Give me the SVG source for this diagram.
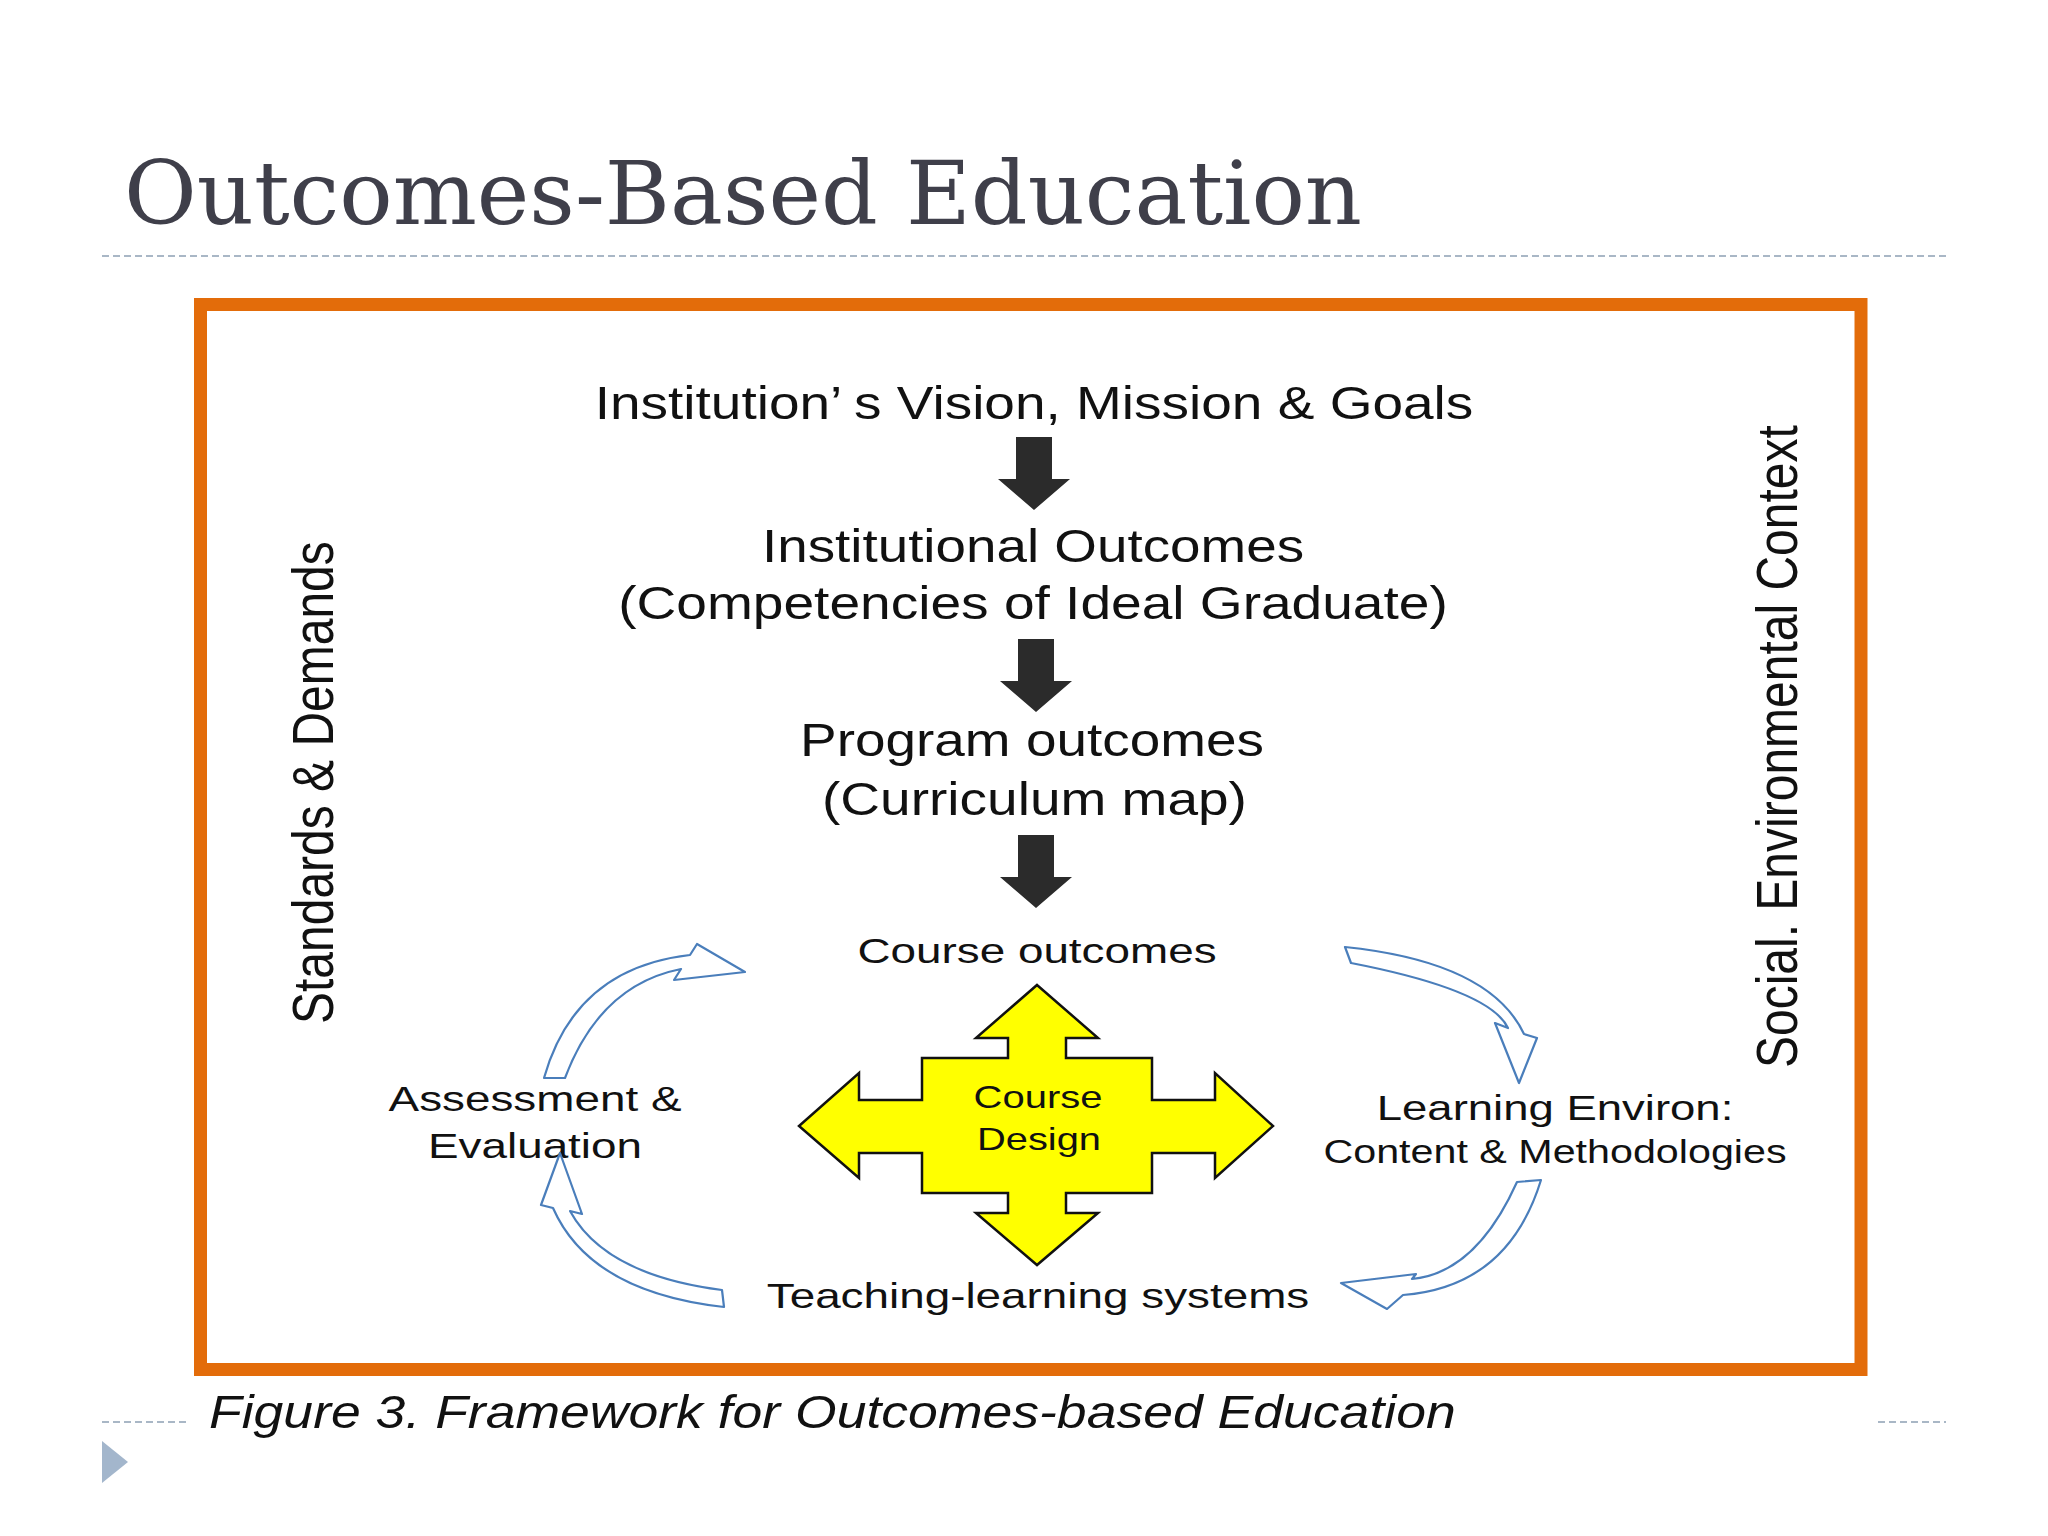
<svg xmlns="http://www.w3.org/2000/svg" width="2048" height="1536" viewBox="0 0 2048 1536">
<defs>
<style>
.title{font-family:"DejaVu Serif","Liberation Serif",serif;font-size:88px;fill:#3f3f4a}
.t{font-family:"Liberation Sans",Arial,sans-serif;fill:#111;text-anchor:middle}
.big{font-size:47px}
.mid{font-size:35px}
.side{font-family:"Liberation Sans",Arial,sans-serif;font-size:48px;fill:#111}
.cap{font-family:"Liberation Sans",Arial,sans-serif;font-size:46px;font-style:italic;fill:#111}
.dash{stroke:#a9b7c6;stroke-width:2;stroke-dasharray:7 4;fill:none}
.blk{fill:#2b2b2b}
.curv{fill:#fff;stroke:#4a7ebb;stroke-width:2.2;stroke-linejoin:round}
</style>
<path id="dn" d="M -18 -73 L 18 -73 L 18 -31 L 36 -31 L 0 0 L -36 -31 L -18 -31 Z"/>
</defs>
<rect width="2048" height="1536" fill="#fff"/>
<g id="title">
<text class="title" x="124" y="224" textLength="1238" lengthAdjust="spacingAndGlyphs">Outcomes-Based Education</text>
<line class="dash" x1="102" y1="256" x2="1946" y2="256"/>
</g>
<rect id="frame" x="200.5" y="304.5" width="1660.5" height="1065" fill="#fff" stroke="#e36c0a" stroke-width="13"/>
<g id="side-left"><text class="side" transform="translate(333,1024) rotate(-90) scale(1,1.18)">Standards &amp; Demands</text></g>
<g id="side-right"><text class="side" transform="translate(1797,1068) rotate(-90) scale(1,1.18)">Social. Environmental Context</text></g>
<g id="n-vision"><text class="t big" transform="translate(1034,419) scale(1.17,1)">Institution’<tspan dx="10">s Vision, Mission &amp; Goals</tspan></text></g>
<g id="n-inst"><text class="t big" transform="translate(1033,562) scale(1.166,1)">Institutional Outcomes</text>
<text class="t big" transform="translate(1033,619) scale(1.172,1)">(Competencies of Ideal Graduate)</text></g>
<g id="n-prog"><text class="t big" transform="translate(1032,756) scale(1.169,1)">Program outcomes</text>
<text class="t big" transform="translate(1034.5,815) scale(1.171,1)">(Curriculum map)</text></g>
<g id="n-course"><text class="t mid" transform="translate(1037,963) scale(1.31,1)">Course outcomes</text></g>
<g id="n-design">
<polygon points="1037,985 1098,1038 1066,1038 1066,1058 1152,1058 1152,1100 1215,1100 1215,1073 1273,1126 1215,1178 1215,1153 1152,1153 1152,1193 1066,1193 1066,1213 1098,1213 1037,1265 976,1213 1008,1213 1008,1193 922,1193 922,1153 859,1153 859,1178 799,1126 859,1073 859,1100 922,1100 922,1058 1008,1058 1008,1038 976,1038" fill="#ffff00" stroke="#111" stroke-width="2.5" stroke-linejoin="miter"/>
<text class="t" style="font-size:32px" transform="translate(1038,1108) scale(1.25,1)">Course</text>
<text class="t" style="font-size:32px" transform="translate(1039,1150) scale(1.245,1)">Design</text>
</g>
<g id="n-assess"><text class="t mid" transform="translate(535,1111) scale(1.31,1)">Assessment &amp;</text>
<text class="t mid" transform="translate(535,1158) scale(1.31,1)">Evaluation</text></g>
<g id="n-teach"><text class="t mid" transform="translate(1038,1308) scale(1.31,1)">Teaching-learning systems</text></g>
<g id="n-learn"><text class="t mid" transform="translate(1555,1120) scale(1.30,1)">Learning Environ:</text>
<text class="t" style="font-size:33px" transform="translate(1555,1163) scale(1.25,1)">Content &amp; Methodologies</text></g>
<g id="connectors">
<use href="#dn" class="blk" x="1034" y="510"/>
<use href="#dn" class="blk" x="1036" y="712"/>
<use href="#dn" class="blk" x="1036" y="908"/>
<path class="curv" d="M 544 1078 Q 575 968 690 955 L 697 944 L 745 972 L 674 980 L 681 969 Q 600 985 565 1078 Z"/>
<path class="curv" d="M 560 1153 L 582 1214 L 570 1211 Q 605 1275 722 1290 L 724 1307 Q 590 1292 553 1208 L 541 1205 Z"/>
<path class="curv" d="M 1345 947 Q 1490 962 1524 1034 L 1537 1038 L 1519 1083 L 1495 1023 L 1508 1028 Q 1490 990 1351 963 Z"/>
<path class="curv" d="M 1517 1182 L 1541 1180 Q 1508 1287 1403 1295 L 1387 1309 L 1341 1283 L 1416 1274 L 1412 1279 Q 1476 1273 1517 1182 Z"/>
</g>
<g id="caption"><text class="cap" transform="translate(209,1428) scale(1.164,1)">Figure 3. Framework for Outcomes-based Education</text></g>
<g id="footer">
<line class="dash" x1="102" y1="1422" x2="186" y2="1422"/>
<line class="dash" x1="1878" y1="1422" x2="1946" y2="1422"/>
<polygon points="102,1441 128,1462 102,1483" fill="#a3b6cc"/>
</g>
</svg>
